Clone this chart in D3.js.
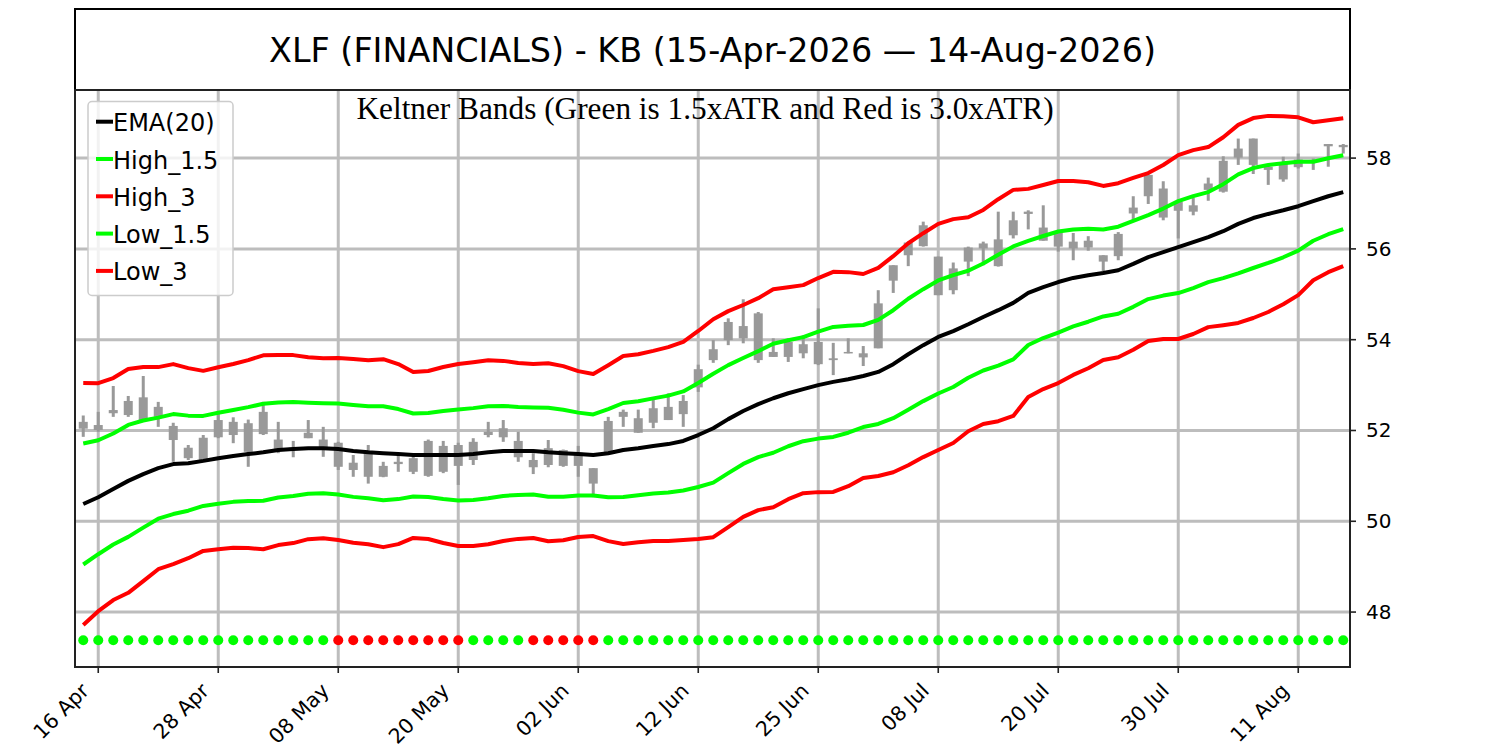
<!DOCTYPE html>
<html>
<head>
<meta charset="utf-8">
<script src="https://cdn.jsdelivr.net/npm/d3@7"></script>
<style>
  body { margin:0; background:#fff; }
  svg text { font-family: "DejaVu Sans", sans-serif; }
</style>
</head>
<body>
<svg id="chart" width="1500" height="750"></svg>
<script>
// trading days, 15-Apr-2026 .. 14-Aug-2026
const dates = [
  "2026-04-15","2026-04-16","2026-04-17","2026-04-20","2026-04-21","2026-04-22","2026-04-23","2026-04-24","2026-04-27","2026-04-28",
  "2026-04-29","2026-04-30","2026-05-01","2026-05-04","2026-05-05","2026-05-06","2026-05-07","2026-05-08","2026-05-11","2026-05-12",
  "2026-05-13","2026-05-14","2026-05-15","2026-05-18","2026-05-19","2026-05-20","2026-05-21","2026-05-22","2026-05-26","2026-05-27",
  "2026-05-28","2026-05-29","2026-06-01","2026-06-02","2026-06-03","2026-06-04","2026-06-05","2026-06-08","2026-06-09","2026-06-10",
  "2026-06-11","2026-06-12","2026-06-15","2026-06-16","2026-06-17","2026-06-18","2026-06-22","2026-06-23","2026-06-24","2026-06-25",
  "2026-06-26","2026-06-29","2026-06-30","2026-07-01","2026-07-02","2026-07-06","2026-07-07","2026-07-08","2026-07-09","2026-07-10",
  "2026-07-13","2026-07-14","2026-07-15","2026-07-16","2026-07-17","2026-07-20","2026-07-21","2026-07-22","2026-07-23","2026-07-24",
  "2026-07-27","2026-07-28","2026-07-29","2026-07-30","2026-07-31","2026-08-03","2026-08-04","2026-08-05","2026-08-06","2026-08-07",
  "2026-08-10","2026-08-11","2026-08-12","2026-08-13","2026-08-14"
];

const opens = [
  52.19,52.12,52.38,52.34,52.23,52.52,52.10,51.39,51.35,51.85,
  52.19,52.16,51.92,51.80,51.62,51.95,51.63,51.73,51.29,50.98,
  51.22,51.31,51.09,51.00,51.66,51.22,51.35,51.90,52.05,51.77,
  51.35,51.24,51.57,51.51,51.17,51.51,52.30,52.27,52.17,52.52,
  52.36,52.95,53.55,53.99,54.30,54.58,53.73,53.62,53.90,53.95,
  53.59,53.70,53.61,53.81,55.30,55.86,56.06,55.83,55.09,55.72,
  56.01,55.62,56.30,56.82,56.47,56.05,56.16,56.03,55.72,55.84,
  56.78,57.16,57.33,57.04,56.82,57.30,57.26,58.01,58.43,57.74,
  57.53,57.80,57.92,58.26,58.24
];
const highs = [
  52.33,52.41,52.98,52.76,53.20,52.63,52.17,51.68,51.90,52.41,
  52.29,52.24,52.63,52.19,51.77,52.23,52.08,51.75,51.46,51.68,
  51.31,51.50,51.50,51.80,51.77,51.73,51.83,52.19,52.23,51.97,
  51.50,51.79,51.58,51.66,51.17,52.30,52.46,52.46,52.71,52.82,
  52.78,53.45,53.99,54.47,54.89,54.61,54.03,54.03,54.10,54.69,
  53.93,54.03,53.86,55.09,55.64,56.16,56.60,55.83,55.70,56.05,
  56.16,56.82,56.82,56.85,56.96,56.37,56.35,56.28,55.86,56.37,
  57.16,57.64,57.49,57.07,57.13,57.57,58.04,58.43,58.43,57.82,
  58.03,58.10,57.99,58.31,58.31
];
const lows = [
  51.86,51.97,52.30,52.30,52.21,52.08,51.31,51.35,51.31,51.83,
  51.72,51.20,51.90,51.50,51.41,51.83,51.42,51.13,50.98,50.83,
  50.97,51.09,51.04,50.98,51.06,50.80,51.24,51.85,51.75,51.31,
  51.04,51.19,51.20,50.98,50.53,51.50,52.08,51.95,52.05,52.23,
  52.08,52.85,53.49,53.88,53.92,53.49,53.62,53.51,53.59,53.44,
  53.22,53.70,53.42,53.81,55.03,55.62,56.05,54.98,55.00,55.40,
  55.64,55.61,56.23,56.43,56.18,55.94,55.75,55.96,55.50,55.75,
  56.63,56.99,56.63,56.23,56.74,57.06,57.24,57.85,57.65,57.41,
  57.48,57.77,57.74,57.81,58.10
];
const closes = [
  52.04,52.01,52.45,52.65,52.73,52.30,51.79,51.62,51.84,52.23,
  51.90,51.53,52.41,51.55,51.58,51.83,51.80,51.20,51.13,51.50,
  50.98,51.26,51.39,51.77,51.09,51.68,51.75,51.97,51.85,51.41,
  51.19,51.61,51.22,51.22,50.83,52.21,52.41,51.95,52.49,52.23,
  52.65,53.35,53.79,54.39,54.03,53.55,53.62,53.95,53.70,53.46,
  53.55,53.73,53.70,54.80,55.64,56.14,56.52,54.98,55.57,56.03,
  56.12,56.21,56.63,56.77,56.18,56.37,56.01,56.18,55.86,56.33,
  56.91,57.63,56.69,56.84,56.96,57.44,57.94,58.21,57.85,57.81,
  57.88,57.97,57.96,58.31,58.29
];

// EMA(20) and ATR; bands are EMA +/- k*ATR
const ema20 = [
  50.38,50.53,50.71,50.89,51.04,51.17,51.26,51.28,51.33,51.39,
  51.44,51.48,51.52,51.57,51.59,51.61,51.61,51.59,51.55,51.52,
  51.50,51.48,51.46,51.46,51.46,51.46,51.48,51.52,51.55,51.55,
  51.55,51.52,51.50,51.48,51.46,51.50,51.57,51.61,51.66,51.70,
  51.77,51.90,52.05,52.25,52.43,52.58,52.71,52.82,52.91,53.00,
  53.07,53.13,53.20,53.29,53.46,53.68,53.88,54.06,54.19,54.34,
  54.50,54.65,54.81,55.03,55.16,55.27,55.36,55.42,55.47,55.53,
  55.67,55.82,55.93,56.04,56.15,56.26,56.39,56.55,56.68,56.77,
  56.85,56.94,57.05,57.16,57.25
];
const atr = [
  0.888,0.837,0.815,0.822,0.786,0.742,0.734,0.698,0.661,0.668,
  0.675,0.690,0.712,0.698,0.690,0.668,0.661,0.668,0.675,0.675,
  0.690,0.661,0.609,0.617,0.646,0.668,0.675,0.675,0.661,0.646,
  0.639,0.653,0.639,0.609,0.595,0.646,0.690,0.690,0.698,0.712,
  0.727,0.764,0.800,0.793,0.778,0.778,0.800,0.778,0.764,0.786,
  0.808,0.786,0.749,0.764,0.793,0.815,0.822,0.830,0.822,0.786,
  0.786,0.815,0.830,0.764,0.749,0.742,0.712,0.683,0.639,0.639,
  0.631,0.617,0.639,0.675,0.675,0.661,0.690,0.727,0.734,0.720,
  0.690,0.653,0.580,0.558,0.543
];

// 1 = in trend (green dot), 0 = out (red dot)
const signal = [
  1,1,1,1,1,1,1,1,1,1, 1,1,1,1,1,1,1,0,0,0,
  0,0,0,0,0,0,1,1,1,1, 0,0,0,0,0,1,1,1,1,1,
  1,1,1,1,1,1,1,1,1,1, 1,1,1,1,1,1,1,1,1,1,
  1,1,1,1,1,1,1,1,1,1, 1,1,1,1,1,1,1,1,1,1,
  1,1,1,1,1
];
const signalLevel = 47.38;

const yTicks = [48, 50, 52, 54, 56, 58];
const tickStep = 8, tickStart = 1;

const seriesDefs = [
  {name:'EMA(20)',  mult: 0,    color:'#000000'},
  {name:'High_1.5', mult: 1.5,  color:'#00ff00'},
  {name:'High_3',   mult: 3,    color:'#ff0000'},
  {name:'Low_1.5',  mult: -1.5, color:'#00ff00'},
  {name:'Low_3',    mult: -3,   color:'#ff0000'}
];

const titleText = 'XLF (FINANCIALS) - KB (15-Apr-2026 \u2014 14-Aug-2026)';
const subText = 'Keltner Bands (Green is 1.5xATR and Red is 3.0xATR)';

(function(){
  const svg = d3.select('#chart');
  const L = 75, R = 1350, T = 90, B = 667;
  const parse = d3.timeParse('%Y-%m-%d');
  const fmt = d3.timeFormat('%d %b');

  const x = d3.scaleLinear().domain([-0.55, dates.length - 1 + 0.45]).range([L, R]);
  const y = d3.scaleLinear().domain([46.79, 59.5]).range([B, T]);

  // title box
  svg.append('rect').attr('x', L).attr('y', 9).attr('width', R-L).attr('height', T-9)
    .attr('fill','none').attr('stroke','#000').attr('stroke-width',2);
  svg.append('text').attr('x', (L+R)/2).attr('y', 62).attr('text-anchor','middle')
    .attr('font-size', 33.4).attr('fill','#000').text(titleText);

  const grid = '#bdbdbd';
  const tickIdx = d3.range(tickStart, dates.length, tickStep);

  // grid
  const g = svg.append('g');
  g.selectAll('line.v').data(tickIdx).join('line')
    .attr('x1', d=>x(d)).attr('x2', d=>x(d)).attr('y1', T).attr('y2', B)
    .attr('stroke', grid).attr('stroke-width', 3);
  g.selectAll('line.h').data(yTicks).join('line')
    .attr('x1', L).attr('x2', R).attr('y1', d=>y(d)).attr('y2', d=>y(d))
    .attr('stroke', grid).attr('stroke-width', 3);

  // candles (all grey)
  const idx = d3.range(dates.length);
  const cg = svg.append('g').attr('fill','#999999').attr('stroke','none');
  cg.selectAll('rect.wick').data(idx).join('rect')
    .attr('x', i=>x(i)-1.5).attr('width', 3)
    .attr('y', i=>y(highs[i])).attr('height', i=>y(lows[i])-y(highs[i]));
  cg.selectAll('rect.body').data(idx).join('rect')
    .attr('x', i=>x(i)-4.5).attr('width', 9)
    .attr('y', i=>y(Math.max(opens[i],closes[i])))
    .attr('height', i=>Math.max(1.5, Math.abs(y(opens[i])-y(closes[i]))));

  // keltner lines
  const line = d3.line().x(d=>x(d[0])).y(d=>y(d[1]));
  seriesDefs.forEach(s => {
    const pts = idx.map(i => [i, ema20[i] + s.mult*atr[i]]);
    svg.append('path').attr('d', line(pts)).attr('fill','none')
      .attr('stroke', s.color).attr('stroke-width', 4).attr('stroke-linejoin','round');
  });

  // signal dots
  svg.append('g').selectAll('circle').data(idx).join('circle')
    .attr('cx', i=>x(i)).attr('cy', y(signalLevel)).attr('r', 5)
    .attr('fill', i=> signal[i] ? '#00ff00' : '#ff0000');

  // subtitle
  svg.append('text').attr('x', 705).attr('y', 119).attr('text-anchor','middle')
    .style('font-family','"Liberation Serif", "Times New Roman", serif')
    .attr('font-size', 31.3).attr('fill','#000').text(subText);

  // frame
  svg.append('rect').attr('x', L).attr('y', T).attr('width', R-L).attr('height', B-T)
    .attr('fill','none').attr('stroke','#222').attr('stroke-width',2);

  // x axis ticks + rotated labels
  const xa = svg.append('g');
  tickIdx.forEach(i => {
    xa.append('line').attr('x1', x(i)).attr('x2', x(i)).attr('y1', B).attr('y2', B+6)
      .attr('stroke','#222').attr('stroke-width',1.6);
    xa.append('text').attr('text-anchor','end').attr('font-size', 20.5).attr('fill','#000')
      .attr('transform', `translate(${x(i)-8},${692}) rotate(-45)`)
      .text(fmt(parse(dates[i])));
  });

  // y axis on the right
  const ya = svg.append('g');
  yTicks.forEach(v => {
    ya.append('line').attr('x1', R).attr('x2', R+6).attr('y1', y(v)).attr('y2', y(v))
      .attr('stroke','#222').attr('stroke-width',1.6);
    ya.append('text').attr('x', R+16).attr('y', y(v)+7).attr('font-size', 20)
      .attr('fill','#000').text(v);
  });

  // legend
  const lg = svg.append('g');
  lg.append('rect').attr('x', 88).attr('y', 101.5).attr('width', 145).attr('height', 194)
    .attr('rx', 4).attr('fill','rgba(255,255,255,0.8)').attr('stroke','#cccccc').attr('stroke-width',1.5);
  seriesDefs.forEach((s, k) => {
    const cy = 121.7 + k*37.3;
    lg.append('line').attr('x1', 96).attr('x2', 113).attr('y1', cy).attr('y2', cy)
      .attr('stroke', s.color).attr('stroke-width', 4);
    lg.append('text').attr('x', 113).attr('y', cy + 9.5).attr('font-size', 24)
      .attr('fill','#000').text(s.name);
  });
})();
</script>
</body>
</html>
